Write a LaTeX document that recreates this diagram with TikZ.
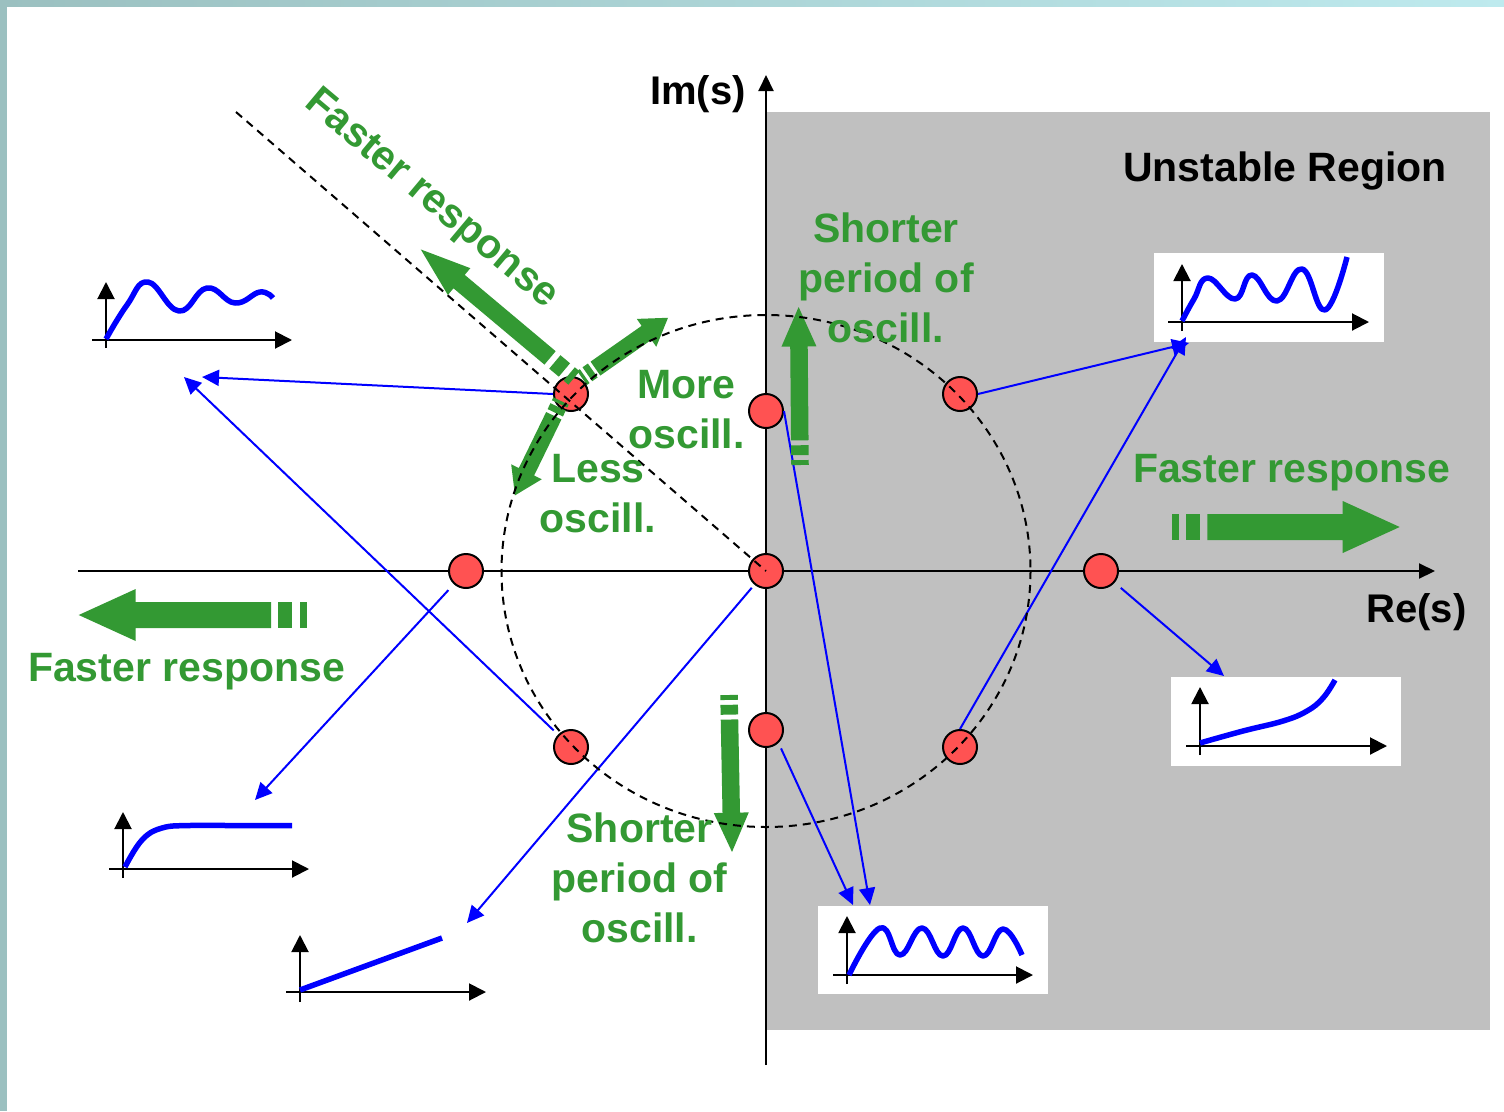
\documentclass[tikz,border=0pt]{standalone}
\usepackage{fontspec}
\setmainfont{Liberation Sans}
\usetikzlibrary{arrows.meta}
\definecolor{ggreen}{RGB}{51,153,51}
\definecolor{polered}{RGB}{255,82,82}
\definecolor{region}{RGB}{192,192,192}
\definecolor{frameL}{RGB}{155,192,192}
\definecolor{frameR}{RGB}{190,234,238}
\newcommand{\stripedarrow}[4]{%
  \begin{scope}[shift={#1},rotate=#2]
    \fill[ggreen] (0,-#4/4) rectangle (#3/32,#4/4);
    \fill[ggreen] (#3/16,-#4/4) rectangle (#3/8,#4/4);
    \fill[ggreen] (5*#3/32,-#4/4) -- (3*#3/4,-#4/4) -- (3*#3/4,-#4/2) -- (#3,0)
      -- (3*#3/4,#4/2) -- (3*#3/4,#4/4) -- (5*#3/32,#4/4) -- cycle;
  \end{scope}}
\tikzset{
  polenode/.style={circle, draw=black, line width=2pt, fill=polered, minimum size=34pt, inner sep=0pt},
  conn/.style={blue, line width=2pt, -{Triangle[length=17pt,width=16pt]}},
  mainaxis/.style={black, line width=2pt, -{Triangle[length=16pt,width=15pt]}},
  miniaxis/.style={black, line width=2pt, -{Triangle[length=17pt,width=17pt]}},
  resp/.style={blue, line width=5.5pt, line join=round},
  lbl/.style={text=ggreen, font=\fontsize{41}{50}\selectfont\bfseries, inner sep=0pt, align=center},
  blbl/.style={text=black, font=\fontsize{40}{50}\selectfont\bfseries, inner sep=0pt},
  guide/.style={black, line width=2pt, dash pattern=on 8pt off 6pt},
  plotbox/.style={fill=white}
}
\begin{document}
\begin{tikzpicture}[x=1pt,y=-1pt]
\useasboundingbox (0,0) rectangle (1504,1111);
\fill[white] (0,0) rectangle (1504,1111);
% frame
\fill[frameL] (0,0) rectangle (7,1111);
\shade[left color=frameL, right color=frameR] (0,0) rectangle (1504,6);
% unstable region
\fill[region] (766,112) rectangle (1490,1030);
% plot boxes
\fill[plotbox] (1154,253) rectangle (1384,342);
\fill[plotbox] (1171,677) rectangle (1401,766);
\fill[plotbox] (818,906) rectangle (1048,994);
% main axes
\draw[mainaxis] (78,571) -- (1435,571);
\draw[mainaxis] (766,1065) -- (766,75);
% mini plots
% P1 damped
\draw[miniaxis] (106,348) -- (106,282);
\draw[miniaxis] (92,340) -- (292,340);
\draw[resp] plot[smooth, tension=0.75] coordinates {(106,339) (127,305) (148,282) (179,311) (207,288) (235,303) (260,292) (273,298)};
% P2 growing
\draw[miniaxis] (1182,331) -- (1182,264);
\draw[miniaxis] (1168,322) -- (1369,322);
\draw[resp] plot[smooth, tension=0.75] coordinates {(1182,321) (1194,299) (1208,278) (1235,299) (1252,275) (1277,301) (1302,269) (1325,310) (1347,257)};
% P3 exponential
\draw[miniaxis] (1200,755) -- (1200,687);
\draw[miniaxis] (1186,746) -- (1387,746);
\draw[resp] plot[smooth, tension=0.7] coordinates {(1200,743) (1243,731) (1283,721) (1307,711) (1323,698) (1335,680)};
% P4 first order
\draw[miniaxis] (123,878) -- (123,812);
\draw[miniaxis] (109,869) -- (309,869);
\draw[resp] plot[smooth, tension=0.7] coordinates {(125,867) (142,840) (162,828) (190,825.5) (230,825.5) (292,825.5)};
% P5 ramp
\draw[miniaxis] (300,1002) -- (300,935);
\draw[miniaxis] (286,992) -- (486,992);
\draw[resp] (300,990) -- (442,938);
% P6 sustained
\draw[miniaxis] (847,984) -- (847,916);
\draw[miniaxis] (833,975) -- (1033,975);
\draw[resp] plot[smooth, tension=0.75] coordinates {(849,975) (880,928) (900,955) (922,928) (943,956) (963,928) (983,956) (1003,929) (1022,955)};
% poles
\node[polenode] (p0) at (766,571) {};
\node[polenode] (pu) at (766,411) {};
\node[polenode] (pd) at (766,730) {};
\node[polenode] (pl) at (466,571) {};
\node[polenode] (pr) at (1101,571) {};
\node[polenode] (pul) at (571,394) {};
\node[polenode] (pdl) at (571,747) {};
\node[polenode] (pur) at (960,394) {};
\node[polenode] (pdr) at (960,747) {};
% connector ends
\coordinate (t1) at (202,377);
\coordinate (t2) at (184,377);
\coordinate (t3) at (255,800);
\coordinate (t4) at (467,923);
\coordinate (t5) at (870,905);
\coordinate (t6) at (853,905);
\coordinate (t7) at (1189,343);
\coordinate (t8) at (1186,337);
\coordinate (t9) at (1224,676);
\draw[conn] (pul.west) -- (t1);
\draw[conn, shorten <=6pt] (pdl) -- (t2);
\draw[conn, shorten <=8pt] (pl) -- (t3);
\draw[conn, shorten <=4pt] (p0) -- (t4);
\draw[conn] (pu.east) -- (t5);
\draw[conn, shorten <=6pt] (pd.-46) -- (t6);
\draw[conn] (pur.east) -- (t7);
\draw[conn] (pdr.north) -- (t8);
\draw[conn, shorten <=8pt] (pr) -- (t9);
% green striped arrows
\stripedarrow{(574,378)}{140}{200}{35}
\stripedarrow{(582,378)}{35}{105}{34}
\stripedarrow{(561,401)}{244}{105}{34}
\stripedarrow{(800,465)}{90.5}{158}{35}
\stripedarrow{(729,695)}{271.1}{157}{35}
\stripedarrow{(1171.7,527)}{0}{228}{52}
\stripedarrow{(306.7,615)}{180}{228}{52}
% dashed guides
\coordinate (g0) at (236,112);
\draw[guide] (g0) -- (p0.center);
\draw[guide] (p0.center) ellipse[x radius=264.5, y radius=256];
% labels
\node[blbl, anchor=base east] (im) at (746,104) {Im(s)};
\node[blbl, anchor=base] (re) at (1416.5,622) {Re(s)};
\node[blbl, anchor=base west, font=\fontsize{41}{50}\selectfont\bfseries] (ur) at (1123,181) {Unstable Region};
\node[lbl, rotate=-40] (fr1) at (431,200) {Faster response};
\node[lbl, anchor=base] (fr2) at (1291.5,482) {Faster response};
\node[lbl, anchor=base] (fr3) at (186.5,681) {Faster response};
\node[lbl, anchor=base] (sp1) at (886,342) {Shorter\\period of\\oscill.};
\node[lbl, anchor=base] (sp2) at (639.5,942) {Shorter\\period of\\oscill.};
\node[lbl, anchor=base] (mo) at (686.5,448) {More\\oscill.};
\node[lbl, anchor=base] (lo) at (598,532) {Less\\oscill.};
\end{tikzpicture}
\end{document}
